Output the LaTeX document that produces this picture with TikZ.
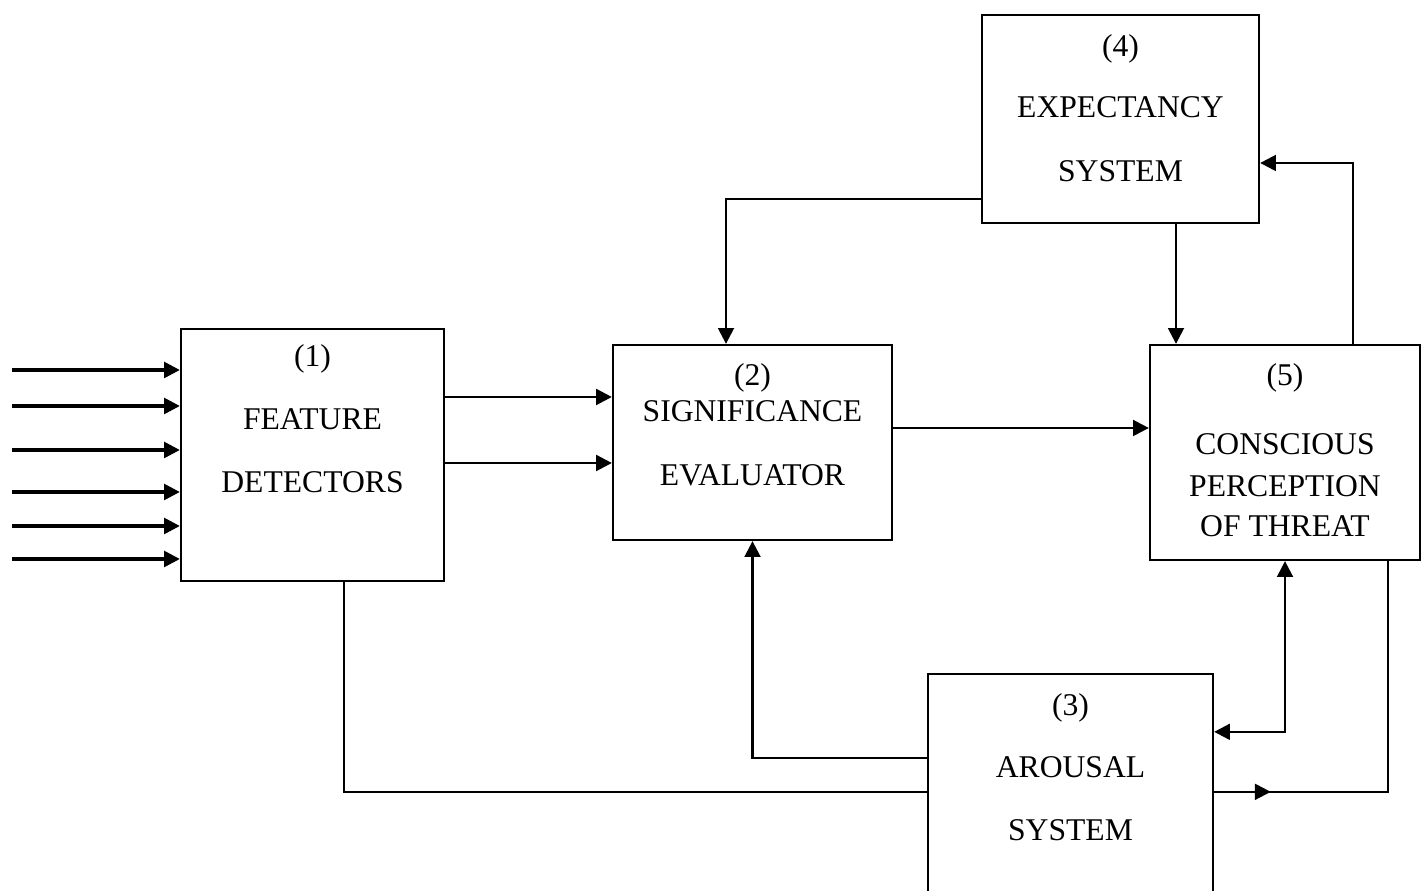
\documentclass[tikz,border=0pt]{standalone}
\usepackage{fontspec}
\setmainfont{Liberation Serif}
\usetikzlibrary{
	arrows.meta,
	positioning,
	decorations.markings,
	calc
}
\tikzstyle{bloc} = [rectangle, draw=black, line width=1.3pt, anchor=center]
\tikzstyle{lbl} = [anchor=base, inner sep=0pt, font=\fontsize{18}{21}\selectfont]
\tikzstyle{arrow} = [line width=1.4pt, -{Triangle[length=9pt, width=9pt]}]
\tikzstyle{link} = [line width=1.3pt]

\begin{document}
\begin{tikzpicture}
		
		\useasboundingbox (0,0) rectangle (28.42,17.82);
		\clip (0,0) rectangle (28.42,17.82);
		
		% ====== Bloc (1) Feature detectors ======
		\node[bloc, minimum width=5.26cm, minimum height=5.04cm] (fd) at (6.25,8.72) {};
		\node[lbl] (fd1) at ($(fd.north)+(0,-0.78)$) {(1)};
		\node[lbl] (fd2) at ($(fd.north)+(0,-2.04)$) {FEATURE};
		\node[lbl] (fd3) at ($(fd.north)+(0,-3.30)$) {DETECTORS};
		
		% ====== Bloc (2) Significance evaluator ======
		\node[bloc, minimum width=5.58cm, minimum height=3.90cm] (se) at (15.05,8.97) {};
		\node[lbl] (se1) at ($(se.north)+(0,-0.84)$) {(2)};
		\node[lbl] (se2) at ($(se.north)+(0,-1.56)$) {SIGNIFICANCE};
		\node[lbl] (se3) at ($(se.north)+(0,-2.84)$) {EVALUATOR};
		
		% ====== Bloc (3) Arousal system ======
		\node[bloc, minimum width=5.70cm, minimum height=4.74cm] (ar) at (21.41,1.97) {};
		\node[lbl] (ar1) at ($(ar.north)+(0,-0.86)$) {(3)};
		\node[lbl] (ar2) at ($(ar.north)+(0,-2.10)$) {AROUSAL};
		\node[lbl] (ar3) at ($(ar.north)+(0,-3.36)$) {SYSTEM};
		
		% ====== Bloc (4) Expectancy system ======
		\node[bloc, minimum width=5.54cm, minimum height=4.16cm] (ex) at (22.41,15.44) {};
		\node[lbl] (ex1) at ($(ex.north)+(0,-0.86)$) {(4)};
		\node[lbl] (ex2) at ($(ex.north)+(0,-2.08)$) {EXPECTANCY};
		\node[lbl] (ex3) at ($(ex.north)+(0,-3.36)$) {SYSTEM};
		
		% ====== Bloc (5) Conscious perception ======
		\node[bloc, minimum width=5.40cm, minimum height=4.30cm] (cp) at (25.70,8.77) {};
		\node[lbl] (cp1) at ($(cp.north)+(0,-0.84)$) {(5)};
		\node[lbl] (cp2) at ($(cp.north)+(0,-2.22)$) {CONSCIOUS};
		\node[lbl] (cp3) at ($(cp.north)+(0,-3.06)$) {PERCEPTION};
		\node[lbl] (cp4) at ($(cp.north)+(0,-3.86)$) {OF THREAT};
		
		% ====== Entrées ======
		\foreach \y [count=\i] in {10.42,9.70,8.82,7.98,7.30,6.64} {
			\coordinate (in\i) at (0.24,\y);
			\draw[arrow, line width=1.8pt] (in\i) -- (in\i -| fd.west);
		}
		
		% ====== (1) -> (2) -> (5) ======
		\coordinate (a1) at ($(fd.east)+(0,1.16)$);
		\coordinate (a2) at ($(fd.east)+(0,-0.16)$);
		\draw[arrow, line width=1.6pt] (a1) -- (a1 -| se.west);
		\draw[arrow, line width=1.6pt] (a2) -- (a2 -| se.west);
		
		\coordinate (b1) at ($(se.east)+(0,0.29)$);
		\draw[arrow] (b1) -- (b1 -| cp.west);
		
		% ====== Liaisons de (4) ======
		\coordinate (c1) at ($(ex.west)+(0,-1.60)$);
		\coordinate (c2) at ($(se.north)+(-0.53,0)$);
		\draw[arrow] (c1) -| (c2);
		
		\coordinate (d1) at ($(ex.south)+(1.11,0)$);
		\draw[arrow] (d1) -- (d1 |- cp.north);
		
		\coordinate (e1) at ($(cp.north)+(1.36,0)$);
		\coordinate (e2) at ($(ex.east)+(0,-0.88)$);
		\draw[arrow] (e1) |- (e2);
		
		% ====== Liaisons de (3) ======
		\coordinate (f1) at ($(fd.south)+(0.63,0)$);
		\coordinate (f2) at ($(ar.north west)+(0,-2.38)$);
		\draw[link] (f1) |- (f2);
		
		\coordinate (g1) at ($(ar.north west)+(0,-1.70)$);
		\draw[arrow] (g1) -| (se.south);
		
		\coordinate (h1) at ($(ar.north east)+(0,-1.18)$);
		\draw[arrow, {Triangle[length=9pt, width=9pt]}-{Triangle[length=9pt, width=9pt]}] (h1) -| (cp.south);
		
		\coordinate (k1) at ($(ar.north east)+(0,-2.38)$);
		\coordinate (k2) at ($(cp.south)+(2.06,0)$);
		\draw[link, postaction=decorate, decoration={markings, mark=at position 0.14 with {\arrow{Triangle[length=9pt, width=9pt]}}}]
		(k1) -| (k2);
		
	\end{tikzpicture}
\end{document}
